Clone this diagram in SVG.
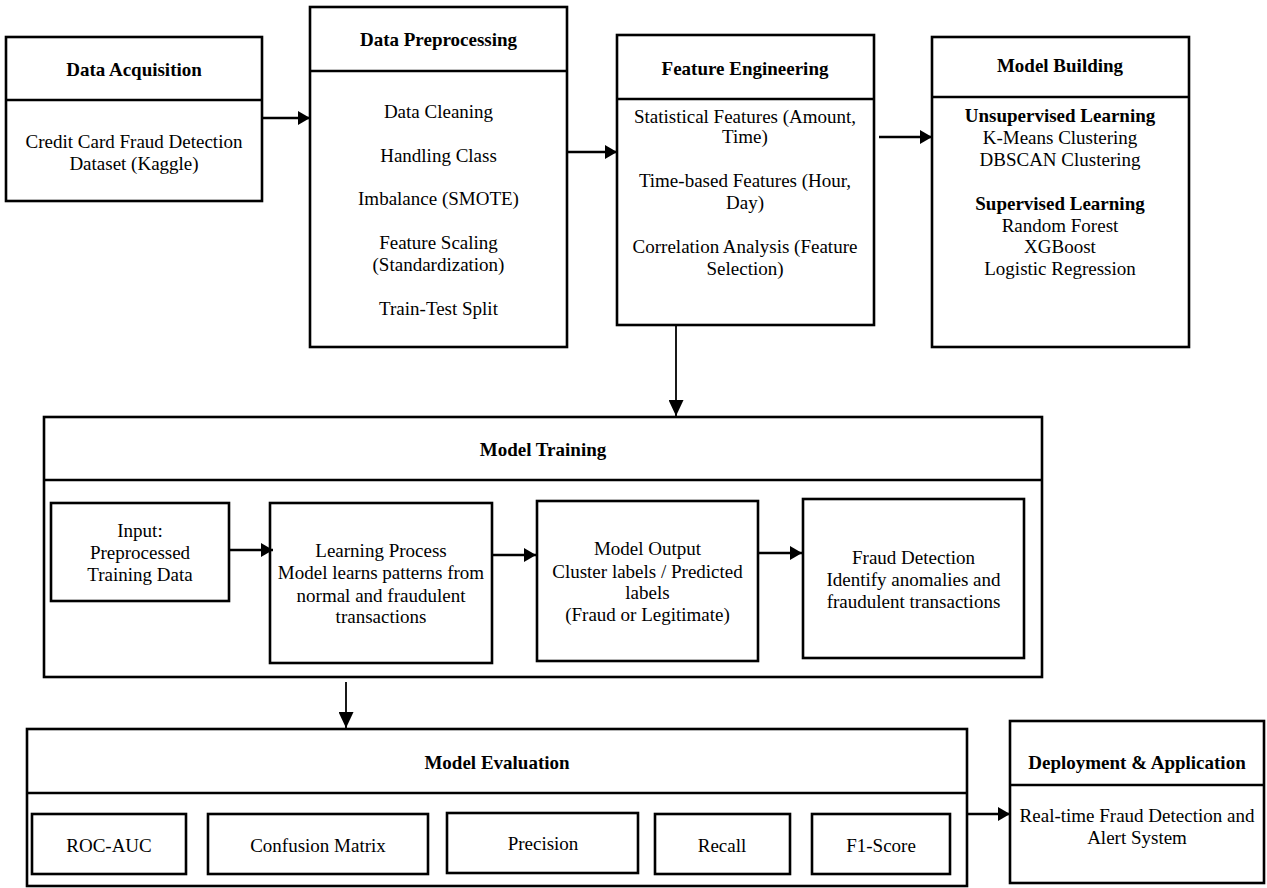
<svg xmlns="http://www.w3.org/2000/svg" width="1267" height="888" viewBox="0 0 1267 888">
<style>
.box{fill:#fff;stroke:#000;stroke-width:2.6}
.t{font-family:"Liberation Serif","Times New Roman",serif;font-size:19px;fill:#000;text-anchor:middle}
.b{font-weight:bold}
.c{stroke:#000;fill:none}
</style>
<defs>
<marker id="ah" viewBox="0 0 12 14" refX="12" refY="7" markerUnits="userSpaceOnUse" markerWidth="12" markerHeight="14" orient="auto"><path d="M0,0 L12,7 L0,14 Z" fill="#000"/></marker>
<marker id="av" viewBox="0 0 16 15" refX="16" refY="7.5" markerUnits="userSpaceOnUse" markerWidth="16" markerHeight="15" orient="auto"><path d="M0,0 L16,7.5 L0,15 Z" fill="#000"/></marker>
</defs>
<rect width="1267" height="888" fill="#fff"/>

<g id="data-acquisition">
<rect class="box" x="6" y="37" width="256" height="164"/>
<line class="c" x1="6" y1="100" x2="262" y2="100" stroke-width="2.6"/>
<text class="t b" x="134" y="76">Data Acquisition</text>
<text class="t" x="134" y="148">Credit Card Fraud Detection</text>
<text class="t" x="134" y="170">Dataset (Kaggle)</text>
</g>

<g id="data-preprocessing">
<rect class="box" x="310" y="7" width="257" height="340"/>
<line class="c" x1="310" y1="71" x2="567" y2="71" stroke-width="2.6"/>
<text class="t b" x="438.5" y="46">Data Preprocessing</text>
<text class="t" x="438.5" y="118">Data Cleaning</text>
<text class="t" x="438.5" y="162">Handling Class</text>
<text class="t" x="438.5" y="205">Imbalance (SMOTE)</text>
<text class="t" x="438.5" y="249">Feature Scaling</text>
<text class="t" x="438.5" y="271">(Standardization)</text>
<text class="t" x="438.5" y="315">Train-Test Split</text>
</g>

<g id="feature-engineering">
<rect class="box" x="617" y="35" width="257" height="290"/>
<line class="c" x1="617" y1="99" x2="874" y2="99" stroke-width="2.6"/>
<text class="t b" x="745" y="75">Feature Engineering</text>
<text class="t" x="745" y="123">Statistical Features (Amount,</text>
<text class="t" x="745" y="143">Time)</text>
<text class="t" x="745" y="187">Time-based Features (Hour,</text>
<text class="t" x="745" y="209">Day)</text>
<text class="t" x="745" y="253">Correlation Analysis (Feature</text>
<text class="t" x="745" y="275">Selection)</text>
</g>

<g id="model-building">
<rect class="box" x="932" y="37" width="257" height="310"/>
<line class="c" x1="932" y1="97" x2="1189" y2="97" stroke-width="2.6"/>
<text class="t b" x="1060" y="72">Model Building</text>
<text class="t b" x="1060" y="122">Unsupervised Learning</text>
<text class="t" x="1060" y="144">K-Means Clustering</text>
<text class="t" x="1060" y="166">DBSCAN Clustering</text>
<text class="t b" x="1060" y="210">Supervised Learning</text>
<text class="t" x="1060" y="232">Random Forest</text>
<text class="t" x="1060" y="253">XGBoost</text>
<text class="t" x="1060" y="275">Logistic Regression</text>
</g>

<g id="model-training">
<rect class="box" x="44" y="417" width="998" height="260"/>
<line class="c" x1="44" y1="480" x2="1042" y2="480" stroke-width="2.6"/>
<text class="t b" x="543" y="456">Model Training</text>
</g>

<g id="input">
<rect class="box" x="51" y="503" width="178" height="98"/>
<text class="t" x="140" y="537">Input:</text>
<text class="t" x="140" y="559">Preprocessed</text>
<text class="t" x="140" y="581">Training Data</text>
</g>

<g id="learning-process">
<rect class="box" x="270" y="503" width="222" height="160"/>
<text class="t" x="381" y="557">Learning Process</text>
<text class="t" x="381" y="579">Model learns patterns from</text>
<text class="t" x="381" y="602">normal and fraudulent</text>
<text class="t" x="381" y="623">transactions</text>
</g>

<g id="model-output">
<rect class="box" x="537" y="501" width="221" height="160"/>
<text class="t" x="647.5" y="555">Model Output</text>
<text class="t" x="647.5" y="578">Cluster labels / Predicted</text>
<text class="t" x="647.5" y="599">labels</text>
<text class="t" x="647.5" y="621">(Fraud or Legitimate)</text>
</g>

<g id="fraud-detection">
<rect class="box" x="803" y="499" width="221" height="159"/>
<text class="t" x="913.5" y="564">Fraud Detection</text>
<text class="t" x="913.5" y="586">Identify anomalies and</text>
<text class="t" x="913.5" y="608">fraudulent transactions</text>
</g>

<g id="model-evaluation">
<rect class="box" x="27" y="729" width="940" height="157"/>
<line class="c" x1="27" y1="793" x2="967" y2="793" stroke-width="2.6"/>
<text class="t b" x="497" y="769">Model Evaluation</text>
</g>

<g id="roc-auc">
<rect class="box" x="32" y="814" width="154" height="60"/>
<text class="t" x="109" y="852">ROC-AUC</text>
</g>
<g id="confusion-matrix">
<rect class="box" x="208" y="814" width="220" height="60"/>
<text class="t" x="318" y="852">Confusion Matrix</text>
</g>
<g id="precision">
<rect class="box" x="447" y="813" width="191" height="60"/>
<text class="t" x="543" y="850">Precision</text>
</g>
<g id="recall">
<rect class="box" x="655" y="814" width="135" height="60"/>
<text class="t" x="722" y="852">Recall</text>
</g>
<g id="f1-score">
<rect class="box" x="812" y="814" width="138" height="60"/>
<text class="t" x="881" y="852">F1-Score</text>
</g>

<g id="deployment">
<rect class="box" x="1010" y="721" width="254" height="162"/>
<line class="c" x1="1010" y1="785" x2="1264" y2="785" stroke-width="2.6"/>
<text class="t b" x="1137" y="769">Deployment &amp; Application</text>
<text class="t" x="1137" y="822">Real-time Fraud Detection and</text>
<text class="t" x="1137" y="844">Alert System</text>
</g>

<g id="connectors">
<line class="c" x1="262" y1="118" x2="310" y2="118" stroke-width="2.6" marker-end="url(#ah)"/>
<line class="c" x1="567" y1="152" x2="617" y2="152" stroke-width="2.6" marker-end="url(#ah)"/>
<line class="c" x1="879" y1="137" x2="932" y2="137" stroke-width="2.6" marker-end="url(#ah)"/>
<line class="c" x1="676" y1="325" x2="676" y2="416" stroke-width="1.8" marker-end="url(#av)"/>
<line class="c" x1="229" y1="550" x2="273" y2="550" stroke-width="2.6" marker-end="url(#ah)"/>
<line class="c" x1="492" y1="555" x2="536" y2="555" stroke-width="2.6" marker-end="url(#ah)"/>
<line class="c" x1="758" y1="553" x2="802" y2="553" stroke-width="2.6" marker-end="url(#ah)"/>
<line class="c" x1="346" y1="682" x2="346" y2="728" stroke-width="1.8" marker-end="url(#av)"/>
<line class="c" x1="967" y1="814" x2="1010" y2="814" stroke-width="2.6" marker-end="url(#ah)"/>
</g>
</svg>
